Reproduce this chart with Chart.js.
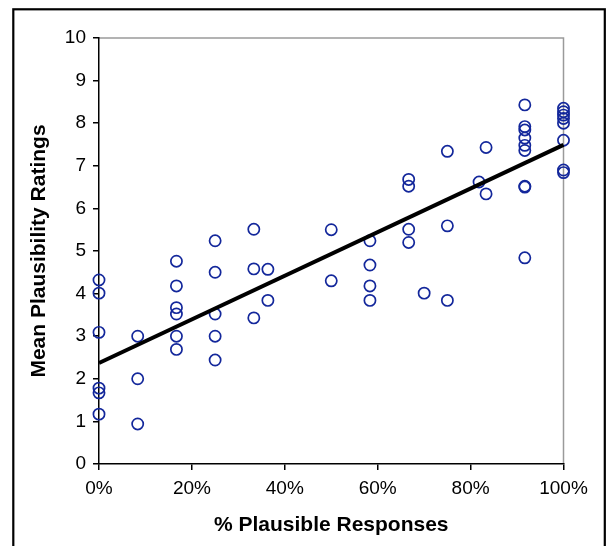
<!DOCTYPE html>
<html lang="en">
<head>
    <meta charset="UTF-8">
    <title>Mean Plausibility Ratings</title>
    <script src="https://cdn.jsdelivr.net/npm/chart.js"></script>
    <style>
        body {
            margin: 0;
            padding: 0;
            background-color: #ffffff;
        }
        #plausChart {
            display: block;
        }
    </style>
</head>
<body>

<canvas id="plausChart" width="608" height="546"></canvas>

<script>
    // % plausible responses per item (x) and mean rating (y)
    const pctPlausible = [
        0, 0, 0, 0, 0, 0,
        8.33, 8.33, 8.33,
        16.67, 16.67, 16.67, 16.67, 16.67, 16.67,
        25, 25, 25, 25, 25,
        33.33, 33.33, 33.33,
        36.36, 36.36,
        50, 50,
        58.33, 58.33, 58.33, 58.33,
        66.67, 66.67, 66.67, 66.67,
        70,
        75, 75, 75,
        81.82,
        83.33, 83.33,
        91.67, 91.67, 91.67, 91.67, 91.67, 91.67, 91.67, 91.67, 91.67,
        100, 100, 100, 100, 100, 100, 100, 100
    ];
    const meanRating = [
        4.32, 4.01, 3.09, 1.78, 1.67, 1.17,
        3.00, 2.00, 0.94,
        4.76, 4.18, 3.67, 3.52, 3.00, 2.69,
        5.24, 4.50, 3.52, 3.00, 2.44,
        5.51, 4.58, 3.43,
        4.57, 3.84,
        5.50, 4.30,
        5.24, 4.67, 4.18, 3.84,
        6.68, 6.52, 5.51, 5.20,
        4.01,
        7.34, 5.59, 3.84,
        6.62,
        7.43, 6.34,
        8.43, 7.92, 7.84, 7.65, 7.48, 7.36, 6.52, 6.50, 4.84,
        8.35, 8.27, 8.19, 8.11, 8.00, 7.60, 6.90, 6.84
    ];

    // regression line end points
    const fitX = [0, 100];
    const fitY = [2.37, 7.49];

    const xTicks = [0, 20, 40, 60, 80, 100];
    const yTicks = [0, 1, 2, 3, 4, 5, 6, 7, 8, 9, 10];

    const points = pctPlausible.map((x, i) => ({ x: x, y: meanRating[i] }));
    const fitLine = fitX.map((x, i) => ({ x: x, y: fitY[i] }));

    // outer frame + grey top/right edge of the plot area
    const framePlugin = {
        id: 'frame',
        beforeDraw(chart) {
            const ctx = chart.ctx;
            const a = chart.chartArea;
            ctx.save();
            ctx.fillStyle = '#ffffff';
            ctx.fillRect(0, 0, chart.width, chart.height);
            ctx.strokeStyle = '#000000';
            ctx.lineWidth = 2.2;
            ctx.strokeRect(13.3, 9.3, 591.5, 600);
            ctx.strokeStyle = '#9a9a9a';
            ctx.lineWidth = 1.5;
            ctx.beginPath();
            ctx.moveTo(a.left, a.top);
            ctx.lineTo(a.right, a.top);
            ctx.lineTo(a.right, a.bottom);
            ctx.stroke();
            ctx.restore();
        }
    };

    const tickFont = { family: '"Liberation Sans", Arial, sans-serif', size: 19 };
    const titleFont = { family: '"Liberation Sans", Arial, sans-serif', size: 21, weight: 'bold' };

    const ctx = document.getElementById('plausChart').getContext('2d');
    const plausChart = new Chart(ctx, {
        type: 'scatter',
        data: {
            datasets: [
                {
                    type: 'line',
                    label: 'Fit',
                    data: fitLine,
                    borderColor: '#000000',
                    borderWidth: 4,
                    pointRadius: 0,
                    fill: false,
                    clip: false,
                    order: 0
                },
                {
                    label: 'Items',
                    data: points,
                    pointStyle: 'circle',
                    pointRadius: 5.6,
                    pointBorderWidth: 1.7,
                    pointBorderColor: '#13279b',
                    pointBackgroundColor: 'rgba(0,0,0,0)',
                    clip: false,
                    order: 1
                }
            ]
        },
        options: {
            responsive: false,
            animation: false,
            layout: {
                padding: { left: 0, right: 44.5, top: 38, bottom: 0 }
            },
            plugins: {
                legend: { display: false },
                tooltip: { enabled: false }
            },
            scales: {
                x: {
                    type: 'linear',
                    min: 0,
                    max: 100,
                    afterBuildTicks: scale => {
                        scale.ticks = xTicks.map(v => ({ value: v }));
                    },
                    afterFit: scale => {
                        scale.height = 82;
                    },
                    ticks: {
                        color: '#000000',
                        font: tickFont,
                        padding: 7,
                        maxRotation: 0,
                        callback: v => v + '%'
                    },
                    grid: {
                        drawOnChartArea: false,
                        drawTicks: true,
                        tickLength: 6,
                        color: '#000000',
                        lineWidth: 1.5
                    },
                    border: { color: '#000000', width: 1.5 },
                    title: {
                        display: true,
                        text: '% Plausible Responses',
                        color: '#000000',
                        font: titleFont,
                        padding: { top: 0, bottom: 8 }
                    }
                },
                y: {
                    type: 'linear',
                    min: 0,
                    max: 10,
                    afterBuildTicks: scale => {
                        scale.ticks = yTicks.map(v => ({ value: v }));
                    },
                    afterFit: scale => {
                        scale.width = 99;
                    },
                    ticks: {
                        color: '#000000',
                        font: tickFont,
                        padding: 7
                    },
                    grid: {
                        drawOnChartArea: false,
                        drawTicks: true,
                        tickLength: 6,
                        color: '#000000',
                        lineWidth: 1.5
                    },
                    border: { color: '#000000', width: 1.5 },
                    title: {
                        display: true,
                        text: 'Mean Plausibility Ratings',
                        color: '#000000',
                        font: titleFont,
                        padding: { top: 27, bottom: 0 }
                    }
                }
            }
        },
        plugins: [framePlugin]
    });
</script>

</body>
</html>
